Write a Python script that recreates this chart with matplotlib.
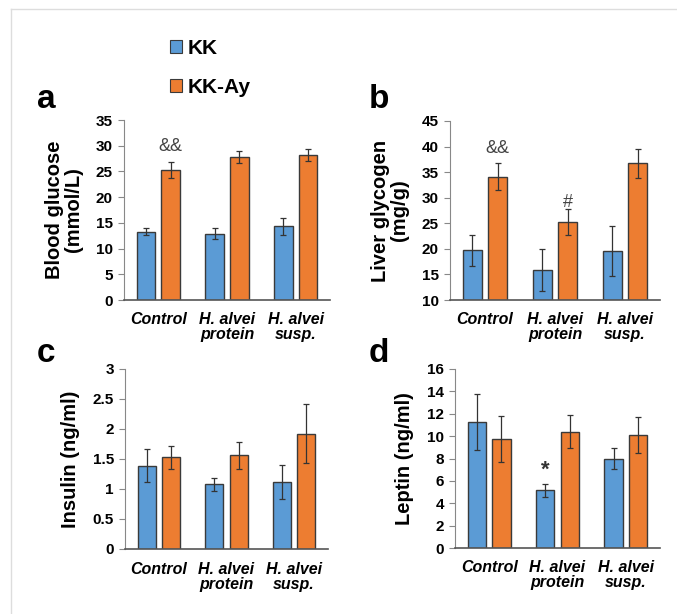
import matplotlib.pyplot as plt
from matplotlib.lines import Line2D
from matplotlib.patches import Patch
import numpy as np

plt.rcParams['font.family'] = ['Liberation Sans', 'DejaVu Sans']

categorias = ['Control', 'H. alvei\nprotein', 'H. alvei\nsusp.']

# Panel a - glucosa
glucosa_kk = [13.3, 12.9, 14.3]
glucosa_kk_err = [0.7, 1.1, 1.7]
glucosa_ay = [25.3, 27.8, 28.2]
glucosa_ay_err = [1.6, 1.1, 1.2]

# Panel b - glucógeno
glucogeno_kk = [19.7, 15.9, 19.5]
glucogeno_kk_err = [3.1, 4.1, 4.9]
glucogeno_ay = [34.1, 25.2, 36.7]
glucogeno_ay_err = [2.6, 2.5, 2.8]

# Panel c - insulina
insulina_kk = [1.39, 1.08, 1.12]
insulina_kk_err = [0.27, 0.11, 0.28]
insulina_ay = [1.53, 1.56, 1.92]
insulina_ay_err = [0.19, 0.22, 0.49]

# Panel d - leptina
leptina_kk = [11.3, 5.15, 8.0]
leptina_kk_err = [2.5, 0.6, 0.9]
leptina_ay = [9.75, 10.4, 10.1]
leptina_ay_err = [2.05, 1.45, 1.6]

color_kk = '#5B9BD5'
color_ay = '#ED7D31'
color_borde = '#3a3a3a'

fig = plt.figure(figsize=(6.77, 6.14), dpi=100)
W, H = 677, 614


def caja(x0, y0, x1, y1):
    # convierte pixeles (origen arriba-izquierda) a coordenadas de figura
    return [x0 / W, 1 - y1 / H, (x1 - x0) / W, (y1 - y0) / H]


def panel(rect, kk, kk_err, ay, ay_err, ylim, yticks, ylabel, ticklabels):
    ax = fig.add_axes(rect)
    x = np.arange(len(categorias))
    ancho = 0.27
    ax.bar(x - 0.18, np.array(kk) - ylim[0], ancho, bottom=ylim[0], color=color_kk,
           edgecolor=color_borde, linewidth=1.0, zorder=2)
    ax.bar(x + 0.18, np.array(ay) - ylim[0], ancho, bottom=ylim[0], color=color_ay,
           edgecolor=color_borde, linewidth=1.0, zorder=2)
    ax.errorbar(x - 0.18, kk, yerr=kk_err, fmt='none', ecolor='#333333',
                elinewidth=0.9, capsize=2.5, capthick=0.9, zorder=3)
    ax.errorbar(x + 0.18, ay, yerr=ay_err, fmt='none', ecolor='#333333',
                elinewidth=0.9, capsize=2.5, capthick=0.9, zorder=3)
    ax.set_xlim(-0.5, 2.5)
    ax.set_ylim(*ylim)
    ax.set_yticks(yticks)
    ax.set_yticklabels(ticklabels, fontsize=11, fontweight='bold')
    ax.set_xticks(x)
    ax.set_xticklabels(categorias, fontsize=11.5, fontweight='bold', style='italic',
                       linespacing=1.0)
    ax.tick_params(axis='x', length=0, pad=9)
    ax.tick_params(axis='y', length=4, width=0.8, color='#888888', pad=4)
    for lado in ['top', 'right']:
        ax.spines[lado].set_visible(False)
    ax.spines['left'].set_color('#888888')
    ax.spines['bottom'].set_color('#555555')
    ax.spines['bottom'].set_linewidth(1.2)
    ax.set_ylabel(ylabel, fontsize=14.5, fontweight='bold', linespacing=1.0, labelpad=9)
    return ax


ax_a = panel(caja(124, 120, 330, 300), glucosa_kk, glucosa_kk_err, glucosa_ay, glucosa_ay_err,
             (0, 35), [0, 5, 10, 15, 20, 25, 30, 35], 'Blood glucose\n(mmol/L)',
             ['0', '5', '10', '15', '20', '25', '30', '35'])
ax_a.text(0.18, glucosa_ay[0] + glucosa_ay_err[0] + 1.2, '&&', ha='center', va='bottom',
          fontsize=13, color='#444444')

ax_b = panel(caja(450, 121, 660, 300), glucogeno_kk, glucogeno_kk_err, glucogeno_ay, glucogeno_ay_err,
             (10, 45), [10, 15, 20, 25, 30, 35, 40, 45], 'Liver glycogen\n(mg/g)',
             ['10', '15', '20', '25', '30', '35', '40', '45'])
ax_b.text(0.18, glucogeno_ay[0] + glucogeno_ay_err[0] + 1.2, '&&', ha='center', va='bottom',
          fontsize=13, color='#444444')
ax_b.text(1.18, glucogeno_ay[1] + glucogeno_ay_err[1] - 0.3, '#', ha='center', va='bottom',
          fontsize=13, color='#444444')

ax_c = panel(caja(125, 369, 328, 549), insulina_kk, insulina_kk_err, insulina_ay, insulina_ay_err,
             (0, 3), [0, 0.5, 1, 1.5, 2, 2.5, 3], 'Insulin (ng/ml)',
             ['0', '0.5', '1', '1.5', '2', '2.5', '3'])

ax_d = panel(caja(455, 369, 660, 548), leptina_kk, leptina_kk_err, leptina_ay, leptina_ay_err,
             (0, 16), [0, 2, 4, 6, 8, 10, 12, 14, 16], 'Leptin (ng/ml)',
             ['0', '2', '4', '6', '8', '10', '12', '14', '16'])
ax_d.text(0.82, leptina_kk[1] + leptina_kk_err[1] + 0.3, '*', ha='center', va='bottom',
          fontsize=16, fontweight='bold', color='#333333')

# letras de los paneles
for letra, (px, py) in zip('abcd', [(37, 108), (369, 108), (37, 362), (369, 362)]):
    fig.text(px / W, 1 - py / H, letra, fontsize=24, fontweight='bold', va='baseline')

# leyenda
manijas = [Patch(facecolor=color_kk, edgecolor=color_borde, linewidth=0.8),
           Patch(facecolor=color_ay, edgecolor=color_borde, linewidth=0.8)]
fig.legend(manijas, ['KK', 'KK-Ay'], loc='upper left', bbox_to_anchor=(151 / W, 1 - 20 / H),
           frameon=False, prop={'size': 15, 'weight': 'bold'}, handlelength=0.6,
           handleheight=0.6, handletextpad=0.25, labelspacing=0.95)

# marco gris claro
fig.add_artist(Line2D([11 / W, 11 / W], [0, 1 - 9 / H], color='#dddddd', linewidth=1))
fig.add_artist(Line2D([11 / W, 1], [1 - 9 / H, 1 - 9 / H], color='#dddddd', linewidth=1))

fig.savefig('out.png', dpi=100)
